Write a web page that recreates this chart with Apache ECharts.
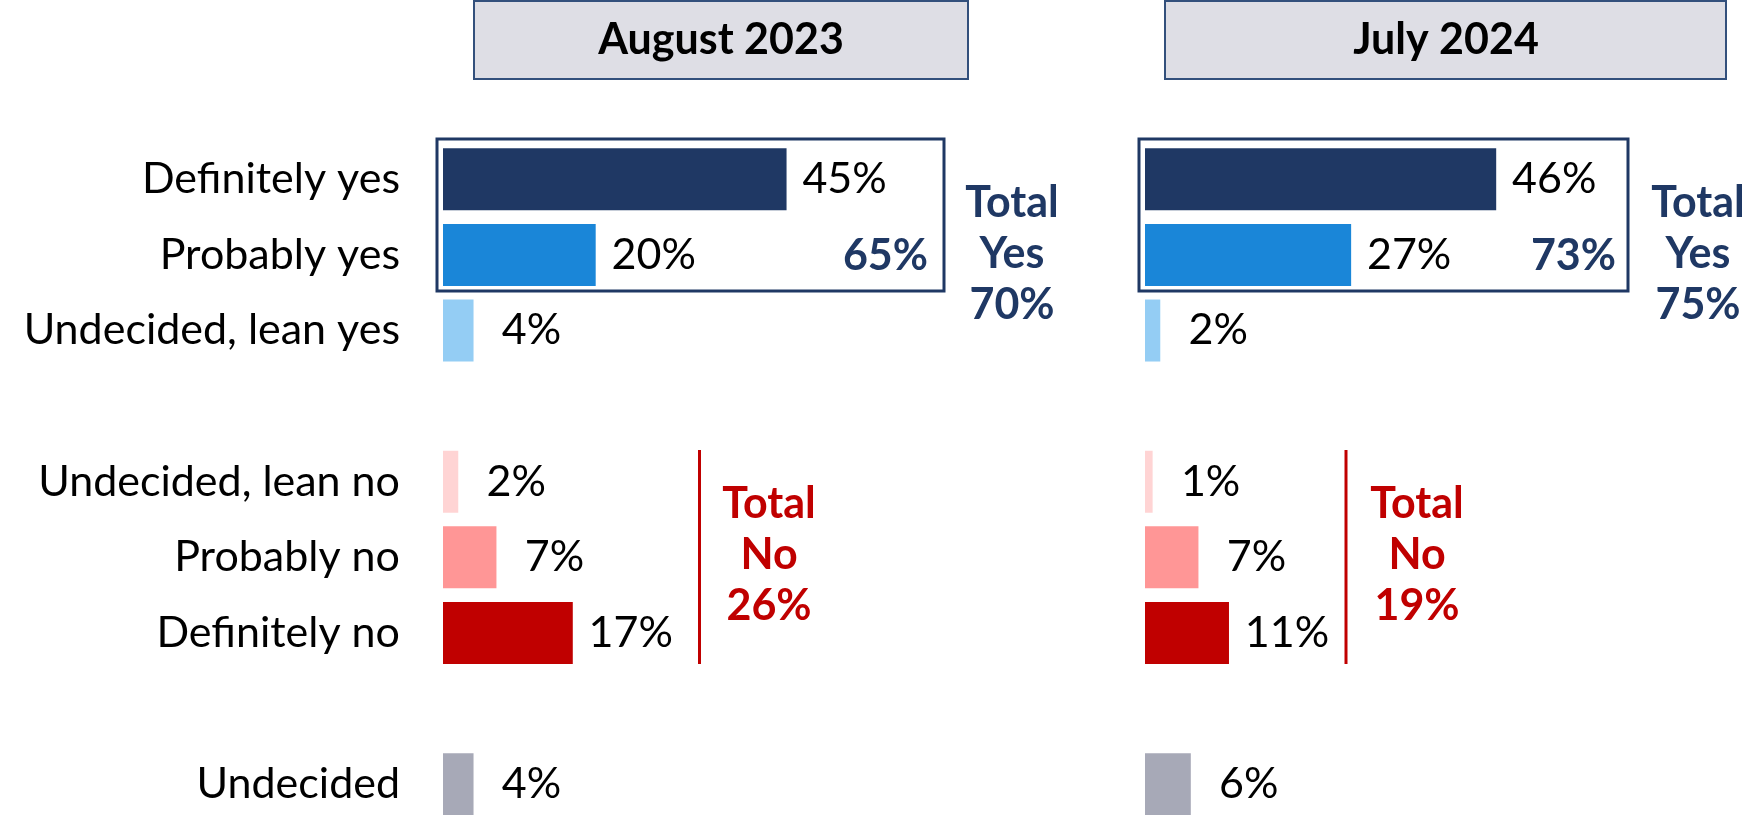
<!DOCTYPE html>
<html>
<head>
<meta charset="utf-8">
<script src="https://cdn.jsdelivr.net/npm/echarts@6/dist/echarts.min.js"></script>
<style>
html,body{margin:0;padding:0;background:#fff;}
#chart{width:1752px;height:815px;}
</style>
</head>
<body>
<div id="chart"></div>
<script>
// ---- data ----
const categories = ['Definitely yes', 'Probably yes', 'Undecided, lean yes', ' ', 'Undecided, lean no', 'Probably no', 'Definitely no', '  ', 'Undecided'];
const aug2023 = [45, 20, 4, null, 2, 7, 17, null, 4];
const jul2024 = [46, 27, 2, null, 1, 7, 11, null, 6];
const barColors = ['#1f3864', '#1a86d8', '#94cdf4', '#ffffff', '#ffd4d4', '#ff9696', '#c00000', '#ffffff', '#a7a9b7'];
const panelTitles = ['August 2023', 'July 2024'];
const boxedYes = ['65%', '73%'];
const totalYes = ['70%', '75%'];
const totalNo = ['26%', '19%'];

const FONT = 'Lato, "Open Sans", sans-serif';
const NAVY = '#1f3864';
const RED = '#c00000';

function seriesFor(values, idx) {
  return {
    type: 'bar',
    xAxisIndex: idx,
    yAxisIndex: idx,
    barWidth: 62,
    data: values.map((v, i) => ({ value: v, itemStyle: { color: barColors[i] } })),
    label: {
      show: true,
      position: 'right',
      distance: 58,
      align: 'center',
      formatter: p => (p.value == null ? '' : p.value + '%'),
      color: '#000',
      fontFamily: FONT,
      fontSize: 43
    },
    silent: true,
    animation: false
  };
}

const grids = [
  { left: 443, top: 141.5, width: 397, height: 680.5, containLabel: false, outerBoundsMode: 'none' },
  { left: 1145, top: 141.5, width: 397, height: 680.5, containLabel: false, outerBoundsMode: 'none' }
];

const xAxes = grids.map((g, i) => ({
  type: 'value', gridIndex: i, min: 0, max: 52, show: false
}));
const yAxes = grids.map((g, i) => ({
  type: 'category', gridIndex: i, data: categories, inverse: true,
  axisLine: { show: false }, axisTick: { show: false }, splitLine: { show: false },
  axisLabel: {
    show: i === 0, margin: 43, color: '#000', fontFamily: FONT, fontSize: 43
  }
}));

function txt(x, y, text, color, align, extra) {
  return Object.assign({
    type: 'text', x: x, y: y, z: 10,
    style: {
      text: text, fill: color, align: align, verticalAlign: 'middle',
      font: 'bold 43px ' + FONT, lineHeight: 51
    }
  }, extra || {});
}

const headerBoxes = [
  { x: 474, w: 494, cx: 721 },
  { x: 1165, w: 561, cx: 1446 }
];
const yesBoxes = [
  { x: 437, w: 507, right: 928, tx: 1012 },
  { x: 1139, w: 489, right: 1616, tx: 1698 }
];
const noLines = [
  { x: 699.5, tx: 769 },
  { x: 1346, tx: 1417 }
];

const graphics = [];
headerBoxes.forEach((b, i) => {
  graphics.push({
    type: 'rect', z: 5,
    shape: { x: b.x, y: 1, width: b.w, height: 78 },
    style: { fill: '#dedee5', stroke: '#33507c', lineWidth: 2 }
  });
  graphics.push(txt(b.cx, 40, panelTitles[i], '#000', 'center'));
});
yesBoxes.forEach((b, i) => {
  graphics.push({
    type: 'rect', z: 5,
    shape: { x: b.x, y: 139, width: b.w, height: 152 },
    style: { fill: 'none', stroke: NAVY, lineWidth: 3 }
  });
  graphics.push(txt(b.right, 256, boxedYes[i], NAVY, 'right'));
  graphics.push(txt(b.tx, 254, 'Total\nYes\n' + totalYes[i], NAVY, 'center'));
});
noLines.forEach((l, i) => {
  graphics.push({
    type: 'line', z: 5,
    shape: { x1: l.x, y1: 450, x2: l.x, y2: 664 },
    style: { stroke: RED, lineWidth: 3 }
  });
  graphics.push(txt(l.tx, 555, 'Total\nNo\n' + totalNo[i], RED, 'center'));
});

const chart = echarts.init(document.getElementById('chart'), null, { renderer: 'canvas' });
chart.setOption({
  animation: false,
  backgroundColor: '#ffffff',
  grid: grids,
  xAxis: xAxes,
  yAxis: yAxes,
  series: [seriesFor(aug2023, 0), seriesFor(jul2024, 1)],
  graphic: graphics
});
</script>
</body>
</html>
